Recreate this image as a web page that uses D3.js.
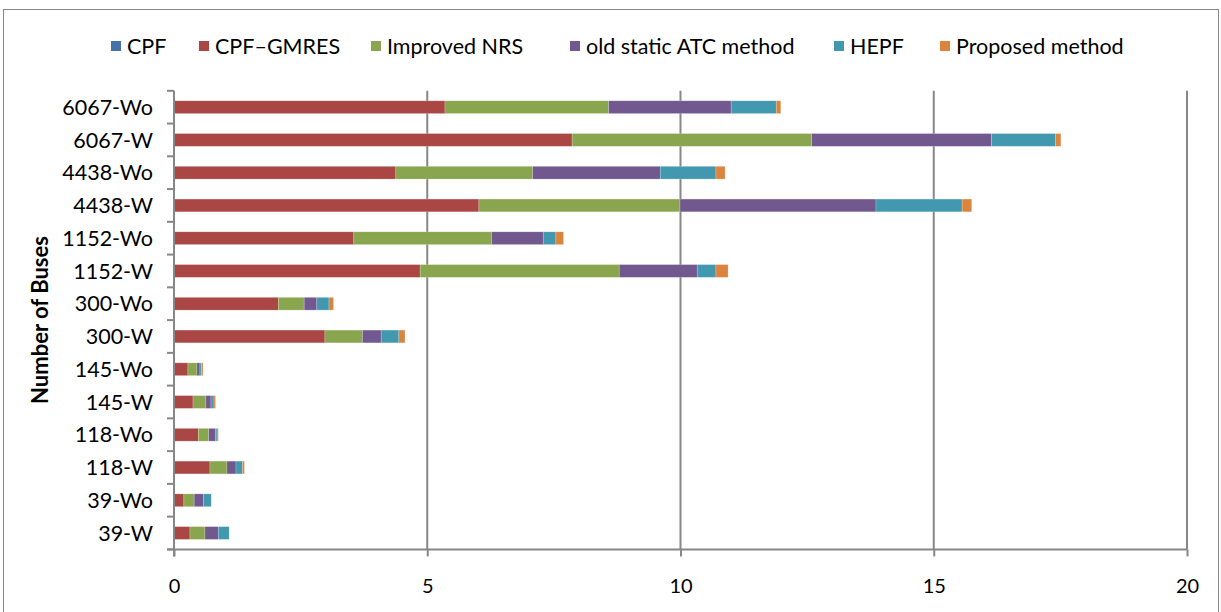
<!DOCTYPE html>
<html>
<head>
<meta charset="utf-8">
<script src="https://cdn.jsdelivr.net/npm/d3@7"></script>
<style>
  html, body { margin: 0; padding: 0; background: #fff; }
  svg { display: block; font-family: Lato, "Open Sans", sans-serif; }
</style>
</head>
<body>
<svg id="chart" width="1221" height="612"></svg>
<script>
// Bus systems, listed top to bottom
const categories = ["6067-Wo", "6067-W", "4438-Wo", "4438-W", "1152-Wo", "1152-W",
  "300-Wo", "300-W", "145-Wo", "145-W", "118-Wo", "118-W", "39-Wo", "39-W"];

const seriesNames = ["CPF", "CPF\u2013GMRES", "Improved NRS", "old static ATC method", "HEPF", "Proposed method"];
const seriesColors = ["#4572A7", "#AA4643", "#89A54E", "#71588F", "#4198AF", "#DB843D"];

// Time per method for each system (same order as categories)
const cpf        = [0.01, 0.01, 0.01, 0.01, 0.01, 0.01, 0.01, 0.01, 0.005, 0.005, 0.005, 0.005, 0.005, 0.005];
const cpfGmres   = [5.34, 7.85, 4.37, 6.01, 3.54, 4.85, 2.05, 2.97, 0.27, 0.37, 0.475, 0.705, 0.19, 0.31];
const improvedNrs= [3.23, 4.73, 2.70, 3.97, 2.72, 3.93, 0.51, 0.74, 0.178, 0.255, 0.205, 0.336, 0.203, 0.296];
const oldStatic  = [2.42, 3.55, 2.52, 3.87, 1.02, 1.54, 0.25, 0.37, 0.059, 0.10, 0.13, 0.178, 0.186, 0.263];
const hepf       = [0.89, 1.26, 1.10, 1.70, 0.25, 0.37, 0.24, 0.35, 0.033, 0.06, 0.035, 0.126, 0.151, 0.215];
const proposed   = [0.09, 0.11, 0.18, 0.19, 0.15, 0.24, 0.09, 0.12, 0.027, 0.03, 0.025, 0.04, 0, 0];

const xTicks = [0, 5, 10, 15, 20];

const seriesValues = [cpf, cpfGmres, improvedNrs, oldStatic, hepf, proposed];

// table of rows for the stack layout
const rows = categories.map((c, i) => {
  const r = { category: c };
  seriesNames.forEach((s, k) => { r[s] = seriesValues[k][i]; });
  return r;
});

const svg = d3.select("#chart");

// outer chart border
svg.append("rect")
  .attr("x", 3.5).attr("y", 9.5)
  .attr("width", 1215).attr("height", 640)
  .attr("fill", "none").attr("stroke", "#868686").attr("stroke-width", 1);

const x = d3.scaleLinear().domain([0, 20]).range([174, 1187]);
const y = d3.scaleBand().domain(categories).range([90.8, 549.4])
  .paddingInner(0.61).paddingOuter(0.305);

const gridColor = "#878787";

// vertical gridlines
svg.append("g").selectAll("line")
  .data(xTicks.filter(t => t > 0))
  .join("line")
  .attr("x1", d => x(d)).attr("x2", d => x(d))
  .attr("y1", y.range()[0]).attr("y2", y.range()[1])
  .attr("stroke", gridColor).attr("stroke-width", 2);

// stacked bars
const stack = d3.stack().keys(seriesNames);
const layers = stack(rows);

svg.append("g").selectAll("g")
  .data(layers)
  .join("g")
  .attr("fill", (d, i) => seriesColors[i])
  .selectAll("rect")
  .data(d => d)
  .join("rect")
  .attr("x", d => x(d[0]))
  .attr("y", d => y(d.data.category))
  .attr("width", d => Math.max(0, x(d[1]) - x(d[0])))
  .attr("height", y.bandwidth())
  .attr("stroke", "rgba(255,255,255,0.35)")
  .attr("stroke-width", 0.6);

// x axis
const xAxisY = y.range()[1];
const xAxis = svg.append("g").attr("transform", `translate(0,${xAxisY})`)
  .call(d3.axisBottom(x).tickValues(xTicks).tickSize(7).tickPadding(22).tickFormat(d3.format("d")));
xAxis.select(".domain").attr("stroke", gridColor).attr("stroke-width", 2).attr("d", `M${x(0) - 7},0H${x(20)}`);
xAxis.selectAll(".tick line").attr("stroke", gridColor).attr("stroke-width", 2);
xAxis.selectAll(".tick text").attr("fill", "#000").style("font-size", "20px").style("font-family", "Lato, sans-serif");

// y axis with ticks between categories
const yAxisG = svg.append("g");
yAxisG.append("line")
  .attr("x1", x(0)).attr("x2", x(0))
  .attr("y1", y.range()[0]).attr("y2", y.range()[1] + 7)
  .attr("stroke", gridColor).attr("stroke-width", 2);
const step = y.step();
const boundaries = d3.range(categories.length + 1).map(i => y.range()[0] + i * step);
yAxisG.selectAll("line.tick")
  .data(boundaries)
  .join("line")
  .attr("class", "tick")
  .attr("x1", x(0) - 7).attr("x2", x(0))
  .attr("y1", d => d).attr("y2", d => d)
  .attr("stroke", gridColor).attr("stroke-width", 2);
yAxisG.selectAll("text")
  .data(categories)
  .join("text")
  .attr("x", 153)
  .attr("y", d => y(d) + y.bandwidth() / 2)
  .attr("dy", "0.36em")
  .attr("text-anchor", "end")
  .style("font-size", "21.5px")
  .text(d => d);

// axis title
svg.append("text")
  .attr("transform", `translate(48,320) rotate(-90)`)
  .attr("text-anchor", "middle")
  .style("font-size", "22px")
  .style("font-weight", "bold")
  .text("Number of Buses");

// legend
const legendX = [111, 199, 371, 570, 834, 940];
const legend = svg.append("g").selectAll("g")
  .data(seriesNames)
  .join("g")
  .attr("transform", (d, i) => `translate(${legendX[i]},46)`);
legend.append("rect")
  .attr("x", 0).attr("y", -5).attr("width", 10).attr("height", 10)
  .attr("fill", (d, i) => seriesColors[i]);
legend.append("text")
  .attr("x", 16).attr("dy", "0.36em")
  .style("font-size", "21.5px")
  .text(d => d);
</script>
</body>
</html>
